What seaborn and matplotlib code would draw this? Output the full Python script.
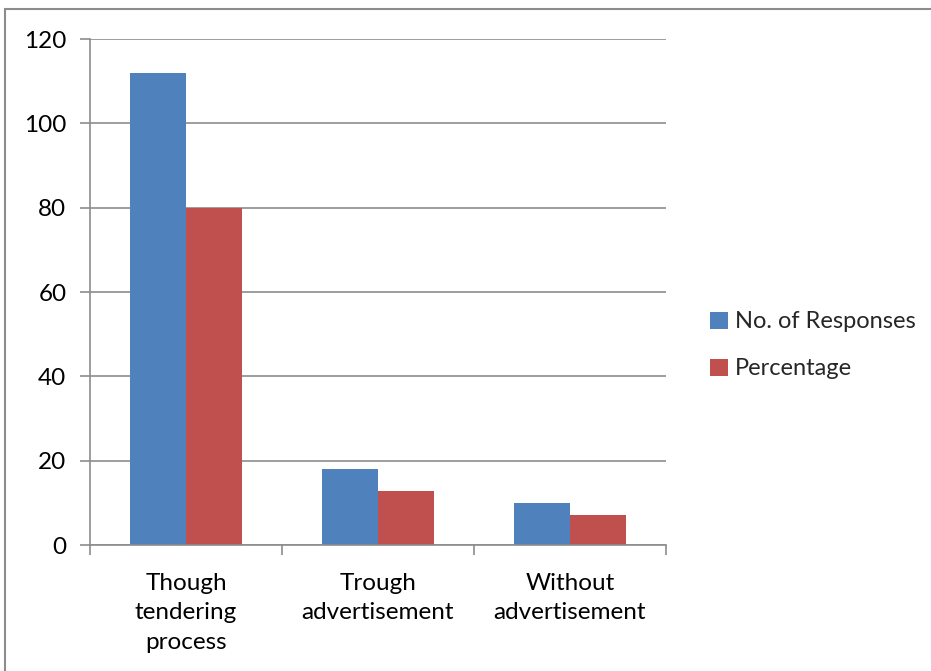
import matplotlib
matplotlib.use("Agg")
import matplotlib.pyplot as plt
from matplotlib.lines import Line2D
from matplotlib.patches import Patch
import seaborn as sns
import pandas as pd

categories = ["Though\ntendering\nprocess", "Trough\nadvertisement", "Without\nadvertisement"]
responses = [112, 18, 10]
percentage = [80, 12.86, 7.14]
series_names = ["No. of Responses", "Percentage"]
y_ticks = [0, 20, 40, 60, 80, 100, 120]

df = pd.DataFrame({
    "category": categories * 2,
    "series": [series_names[0]] * 3 + [series_names[1]] * 3,
    "value": responses + percentage,
})

sns.set_theme(style="white")
plt.rcParams["font.family"] = ["Lato", "DejaVu Sans"]

W, H = 931, 671
fig = plt.figure(figsize=(W / 100, H / 100), dpi=100)
ax = fig.add_axes([90 / W, 1 - 545 / H, (666 - 90) / W, (545 - 39) / H])

palette = {series_names[0]: "#4F81BD", series_names[1]: "#C0504D"}
sns.barplot(data=df, x="category", y="value", hue="series", palette=palette,
            width=0.58, saturation=1, edgecolor="none", ax=ax, legend=False)

grid_c = "#8C8C8C"
ax.set_ylim(0, 120)
ax.set_xlim(-0.5, 2.5)
ax.set_yticks(y_ticks)
ax.set_yticklabels([str(t) for t in y_ticks], fontsize=17.5, color="black")
ax.yaxis.grid(True, color=grid_c, linewidth=1.2)
ax.set_axisbelow(True)
ax.tick_params(axis="y", direction="out", length=7, width=1.2, color=grid_c, pad=10, left=True)

ax.set_xticks([0, 1, 2])
ax.set_xticklabels(categories, fontsize=17.5, color="black", linespacing=1.5)
ax.set_xticks([-0.5, 0.5, 1.5, 2.5], minor=True)
ax.tick_params(axis="x", which="major", length=0, pad=20)
ax.tick_params(axis="x", which="minor", direction="out", length=7, width=1.2, color=grid_c, bottom=True)
ax.set_xlabel("")
ax.set_ylabel("")

for side in ["top", "right"]:
    ax.spines[side].set_visible(False)
for side in ["left", "bottom"]:
    ax.spines[side].set_color(grid_c)
    ax.spines[side].set_linewidth(1.2)

handles = [Patch(facecolor=palette[s], edgecolor="none") for s in series_names]
fig.legend(handles, series_names, loc="upper left", bbox_to_anchor=(701 / W, 1 - 302 / H),
           frameon=False, fontsize=17, handlelength=0.75, handleheight=0.75,
           handletextpad=0.3, labelspacing=1.1, borderaxespad=0)

# outer chart frame (top and left edges)
fig.add_artist(Line2D([5 / W, 5 / W], [0, 1 - 9 / H], transform=fig.transFigure,
                      color="#8C8C8C", linewidth=1.5))
fig.add_artist(Line2D([5 / W, 1], [1 - 9 / H, 1 - 9 / H], transform=fig.transFigure,
                      color="#8C8C8C", linewidth=1.5))

fig.savefig("out.png", dpi=100)
